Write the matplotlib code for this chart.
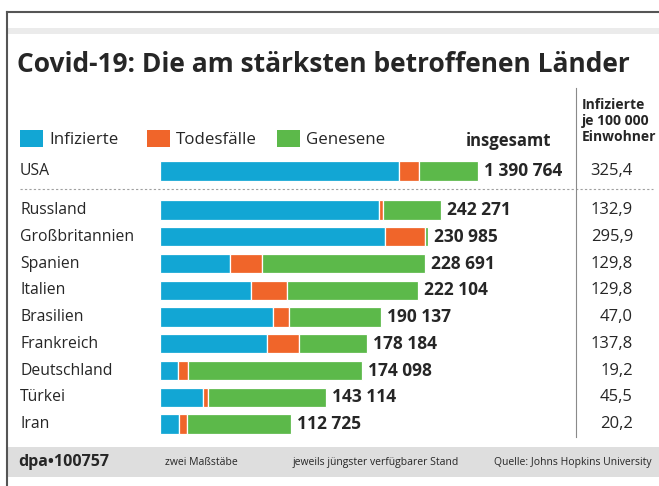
import matplotlib
matplotlib.use("Agg")
import matplotlib.pyplot as plt
from matplotlib import font_manager
from matplotlib.lines import Line2D
from matplotlib.patches import Rectangle
from matplotlib.transforms import blended_transform_factory

# --- data (Johns Hopkins, mid-May 2020) ---
usa_name = "USA"
usa_active = 1044000
usa_deaths = 88000
usa_recovered = 258764
usa_total = 1390764
usa_per_100k = 325.4

countries = ["Russland", "Großbritannien", "Spanien", "Italien", "Brasilien",
             "Frankreich", "Deutschland", "Türkei", "Iran"]
active = [189000, 193800, 60547, 78457, 97500, 92000, 15937, 37447, 16514]
deaths = [3200, 35000, 27321, 31106, 13900, 27500, 7861, 3952, 6783]
recovered = [50071, 2185, 140823, 112541, 78737, 58684, 150300, 101715, 89428]
totals = [242271, 230985, 228691, 222104, 190137, 178184, 174098, 143114, 112725]
per_100k = [132.9, 295.9, 129.8, 129.8, 47.0, 137.8, 19.2, 45.5, 20.2]

legend_labels = ["Infizierte", "Todesfälle", "Genesene"]

BLUE = "#12a6d4"
ORANGE = "#f0652a"
GREEN = "#5cb94a"
TXT = "#262626"

names = {f.name for f in font_manager.fontManager.ttflist}
SANS = "Open Sans" if "Open Sans" in names else "DejaVu Sans"
NARROW = "Liberation Sans Narrow" if "Liberation Sans Narrow" in names else SANS
plt.rcParams["font.family"] = [SANS, "DejaVu Sans"]

W, H = 659, 486
fig = plt.figure(figsize=(W / 100, H / 100), dpi=100)


def fx(x):
    return x / W


def fy(y):
    return 1 - y / H


def fmt(n):
    return f"{n:,}".replace(",", " ")


# frame and bands
fig.add_artist(Line2D([fx(7), fx(7)], [fy(12), fy(486)], color="#555555", lw=1.5))
fig.add_artist(Line2D([fx(7), fx(659)], [fy(12), fy(12)], color="#555555", lw=1.5))
fig.add_artist(Rectangle((fx(8), fy(34)), fx(651), 6 / H, color="#ebebeb", lw=0))
fig.add_artist(Rectangle((fx(8), fy(477)), fx(651), 30 / H, color="#dedede", lw=0))

fig.text(fx(17), fy(64), "Covid-19: Die am stärksten betroffenen Länder",
         fontsize=19, fontweight="bold", color=TXT, va="center", ha="left")

# legend
leg_x = [20, 147, 277]
for lx, lab, col in zip(leg_x, legend_labels, [BLUE, ORANGE, GREEN]):
    fig.add_artist(Rectangle((fx(lx), fy(147)), 23 / W, 17 / H, color=col, lw=0))
    fig.text(fx(lx + 29), fy(140.5), lab, fontsize=12.2, color=TXT, va="center")
fig.text(fx(551), fy(140.5), "insgesamt", fontsize=12, fontweight="bold",
         color=TXT, va="center", ha="right")
fig.text(fx(582), fy(121), "Infizierte\nje 100 000\nEinwohner", family=NARROW,
         fontsize=10, fontweight="bold", color=TXT, va="center", ha="left",
         linespacing=1.2)

# separators
fig.add_artist(Line2D([fx(20), fx(653)], [fy(189), fy(189)], color="#a0a0a0",
                      lw=0.8, linestyle=(0, (2, 2))))
fig.add_artist(Line2D([fx(576), fx(576)], [fy(88), fy(437)], color="#8a8a8a", lw=0.8))

ROW = 26.75
BAR_H = 0.72


def stacked(ax, ypos, a, d, r):
    ax.barh(ypos, a, height=BAR_H, color=BLUE, edgecolor="white", linewidth=0.9)
    ax.barh(ypos, d, left=a, height=BAR_H, color=ORANGE, edgecolor="white", linewidth=0.9)
    left2 = [x + y for x, y in zip(a, d)]
    ax.barh(ypos, r, left=left2, height=BAR_H, color=GREEN, edgecolor="white", linewidth=0.9)


def labels(ax, ypos, labs, tots, per):
    trans = blended_transform_factory(fig.transFigure, ax.transData)
    for y, lab, t, p in zip(ypos, labs, tots, per):
        ax.text(fx(20), y, lab, transform=trans, fontsize=11.3, color=TXT,
                va="center", ha="left")
        ax.annotate(fmt(t), xy=(t, y), xytext=(6, 0), textcoords="offset pixels",
                    fontsize=12.5, fontweight="bold", color=TXT, va="center", ha="left")
        ax.text(fx(633), y, f"{p:.1f}".replace(".", ","), transform=trans,
                fontsize=12, color=TXT, va="center", ha="right")


# USA: own scale
ax_usa = fig.add_axes([fx(160), fy(171 + ROW / 2), 415 / W, ROW / H])
stacked(ax_usa, [0], [usa_active], [usa_deaths], [usa_recovered])
ax_usa.set_xlim(0, 415 / 2.2865e-4)
ax_usa.set_ylim(0.5, -0.5)
ax_usa.axis("off")
labels(ax_usa, [0], [usa_name], [usa_total], [usa_per_100k])

# other countries
n = len(countries)
top = 210 - ROW / 2
ax = fig.add_axes([fx(160), fy(top + n * ROW), 415 / W, n * ROW / H])
ypos = list(range(n))
stacked(ax, ypos, active, deaths, recovered)
ax.set_xlim(0, 415 / 1.16e-3)
ax.set_ylim(n - 0.5, -0.5)
ax.axis("off")
labels(ax, ypos, countries, totals, per_100k)

# footer
fig.text(fx(18), fy(462), "dpa\u2022100757", fontsize=11.5, fontweight="bold",
         color=TXT, va="center")
fig.text(fx(165), fy(462), "zwei Maßstäbe", family=NARROW, fontsize=7.5,
         color=TXT, va="center")
fig.text(fx(293), fy(462), "jeweils jüngster verfügbarer Stand", family=NARROW,
         fontsize=7.5, color=TXT, va="center")
fig.text(fx(652), fy(462), "Quelle: Johns Hopkins University", family=NARROW,
         fontsize=7.5, color=TXT, va="center", ha="right")

fig.savefig("out.png", dpi=100, facecolor="white")
